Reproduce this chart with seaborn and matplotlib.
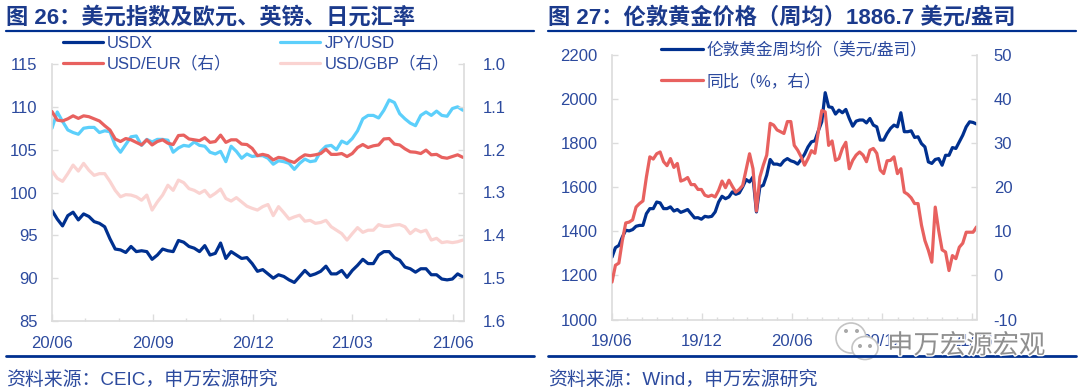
import pandas as pd
import matplotlib
matplotlib.use("Agg")
import matplotlib.pyplot as plt
import matplotlib.dates as mdates
import matplotlib.patheffects as pe
from matplotlib.lines import Line2D
from matplotlib.patches import Ellipse
import seaborn as sns

# chart 26, left scale
usdx = [97.9, 96.9, 96.1, 97.3, 97.7, 96.8, 97.5, 97.2, 96.6, 96.4, 96.0, 94.6, 93.4, 93.3, 93.0, 93.7,
        93.1, 93.2, 93.1, 92.2, 92.7, 93.4, 93.2, 93.1, 94.4, 94.2, 93.7, 93.5, 93.1, 93.8, 92.7, 92.9,
        94.1, 92.3, 93.1, 92.7, 92.3, 92.4, 91.7, 90.8, 91.0, 90.5, 90.0, 90.4, 90.2, 89.8, 89.5, 90.2,
        90.9, 90.3, 90.5, 90.8, 91.4, 90.5, 90.5, 90.9, 90.1, 90.9, 91.5, 92.2, 91.7, 91.7, 92.7, 93.1,
        93.1, 92.4, 92.1, 91.3, 91.1, 90.7, 91.1, 91.1, 90.4, 90.4, 89.9, 89.8, 89.9, 90.5, 90.15]
jpy_usd = [107.5, 109.4, 108.3, 107.3, 107.0, 106.8, 107.5, 107.6, 107.6, 107.0, 107.2, 107.1, 105.5, 104.7,
           105.6, 106.5, 106.6, 105.5, 106.2, 105.9, 106.2, 106.2, 106.1, 104.7, 105.2, 105.5, 105.4, 105.9,
           105.5, 105.4, 104.7, 104.5, 104.8, 103.6, 105.4, 104.8, 104.0, 104.5, 104.2, 104.3, 104.3, 104.0,
           103.3, 103.7, 103.6, 103.4, 102.7, 103.4, 103.9, 103.6, 103.7, 104.8, 105.4, 105.5, 105.0, 106.0,
           105.7, 106.3, 107.2, 108.6, 109.0, 109.0, 108.7, 109.6, 110.8, 110.5, 109.2, 108.6, 108.1, 107.8,
           109.0, 109.4, 109.0, 109.5, 109.0, 108.9, 109.8, 110.0, 109.6]
# chart 26, right scale
usd_eur = [1.111, 1.131, 1.133, 1.128, 1.121, 1.127, 1.121, 1.123, 1.128, 1.133, 1.144, 1.154, 1.175, 1.181,
           1.174, 1.177, 1.183, 1.189, 1.177, 1.189, 1.181, 1.177, 1.185, 1.188, 1.167, 1.166, 1.175, 1.177,
           1.179, 1.172, 1.183, 1.181, 1.166, 1.183, 1.177, 1.177, 1.187, 1.188, 1.197, 1.214, 1.211, 1.214,
           1.224, 1.218, 1.220, 1.226, 1.230, 1.220, 1.212, 1.214, 1.212, 1.209, 1.199, 1.211, 1.211, 1.209,
           1.216, 1.209, 1.195, 1.188, 1.195, 1.191, 1.189, 1.175, 1.174, 1.187, 1.189, 1.198, 1.205, 1.206,
           1.209, 1.201, 1.212, 1.211, 1.218, 1.220, 1.216, 1.212, 1.218]
usd_gbp = [1.250, 1.267, 1.274, 1.256, 1.236, 1.250, 1.232, 1.248, 1.260, 1.256, 1.256, 1.274, 1.295, 1.310,
           1.305, 1.306, 1.310, 1.318, 1.306, 1.341, 1.322, 1.306, 1.283, 1.295, 1.271, 1.277, 1.291, 1.295,
           1.302, 1.295, 1.310, 1.302, 1.292, 1.314, 1.320, 1.312, 1.322, 1.332, 1.337, 1.341, 1.333, 1.328,
           1.354, 1.333, 1.347, 1.362, 1.357, 1.353, 1.367, 1.365, 1.372, 1.370, 1.365, 1.380, 1.388, 1.396,
           1.411, 1.396, 1.382, 1.393, 1.388, 1.388, 1.375, 1.379, 1.379, 1.376, 1.375, 1.380, 1.396, 1.386,
           1.392, 1.388, 1.411, 1.407, 1.417, 1.415, 1.417, 1.415, 1.411]

# chart 27
gold = [1283, 1326, 1336, 1374, 1405, 1402, 1408, 1423, 1427, 1427, 1480, 1503, 1503, 1533, 1529, 1503, 1503,
        1511, 1492, 1499, 1486, 1492, 1499, 1480, 1461, 1462, 1455, 1468, 1465, 1468, 1488, 1533, 1559, 1548,
        1556, 1579, 1568, 1574, 1602, 1635, 1624, 1647, 1488, 1602, 1609, 1655, 1726, 1705, 1705, 1700, 1720,
        1730, 1720, 1715, 1705, 1726, 1750, 1783, 1806, 1811, 1856, 1897, 2029, 1965, 1962, 1932, 1950, 1938,
        1953, 1912, 1877, 1900, 1905, 1905, 1892, 1912, 1882, 1874, 1814, 1814, 1844, 1867, 1882, 1874, 1938,
        1852, 1852, 1856, 1826, 1829, 1798, 1783, 1715, 1708, 1726, 1730, 1700, 1745, 1745, 1780, 1776, 1806,
        1836, 1874, 1897, 1894, 1887]
gold_yoy = [-1.5, 2.3, 2.8, 7.9, 11.9, 12.1, 12.6, 15.5, 16.3, 16.9, 22.3, 26.9, 26.4, 27.6, 28.0, 25.8, 24.9,
            26.5, 24.5, 25.4, 21.4, 21.7, 22.2, 20.6, 20.6, 19.5, 19.5, 18.2, 17.9, 18.2, 17.8, 19.3, 21.4, 19.9,
            21.6, 20.2, 18.9, 19.5, 20.4, 24.0, 27.6, 24.2, 14.6, 22.3, 25.0, 27.3, 34.5, 34.1, 33.0, 32.6, 32.2,
            34.9, 34.9, 29.5, 28.4, 26.9, 25.0, 26.5, 28.3, 27.7, 32.6, 37.4, 37.1, 29.5, 30.5, 26.1, 26.5, 28.8,
            30.2, 24.2, 26.1, 27.3, 28.0, 27.3, 25.8, 28.4, 28.8, 27.7, 23.9, 23.1, 26.0, 26.1, 26.9, 23.1, 24.2,
            18.9, 18.4, 17.6, 16.3, 16.3, 11.4, 7.9, 5.7, 3.0, 15.5, 10.2, 5.8, 5.3, 1.1, 4.5, 3.8, 6.4, 7.3,
            9.8, 9.8, 9.8, 11.0]

left_ticks = [85, 90, 95, 100, 105, 110, 115]
fx_ticks = [1.0, 1.1, 1.2, 1.3, 1.4, 1.5, 1.6]
gold_ticks = [1000, 1200, 1400, 1600, 1800, 2000, 2200]
yoy_ticks = [-10, 0, 10, 20, 30, 40, 50]

dates_fx = pd.date_range("2020-06-01", "2021-06-10", periods=len(usdx))
dates_gold = pd.date_range("2019-06-01", "2021-06-10", periods=len(gold))

NAVY = "#00308f"
SKY = "#5ccffb"
RED = "#e8615f"
PINK = "#fad3d1"
TEXT = "#2c4a9e"
TITLE = "#1b3a8c"
GREY = "#dcdcdc"
W, H = 1080, 392

sns.set_theme(style="white")
plt.rcParams["font.family"] = ["Liberation Sans", "Noto Sans CJK SC"]

fig = plt.figure(figsize=(W / 100, H / 100), dpi=100)


def add_ax(x0, x1, y0, y1):
    return fig.add_axes([x0 / W, 1 - y1 / H, (x1 - x0) / W, (y1 - y0) / H])


def fx(px):
    return px / W


def fy(py):
    return 1 - py / H


def style_pair(ax, ax2, xlim, major_months, lticks, rticks, llim, rlim, lpad, rpad):
    ax.set_xlim(*xlim)
    ax.set_ylim(*llim)
    ax2.set_ylim(*rlim)
    ax.set_yticks(lticks, [str(t) for t in lticks])
    ax2.set_yticks(rticks, [str(t) for t in rticks])
    ax.xaxis.set_major_locator(mdates.MonthLocator(bymonth=major_months))
    ax.xaxis.set_minor_locator(mdates.MonthLocator())
    ax.xaxis.set_major_formatter(mdates.DateFormatter("%y/%m"))
    ax.set_xlabel("")
    ax.set_ylabel("")
    ax2.set_xlabel("")
    ax2.set_ylabel("")
    for a in (ax, ax2):
        a.patch.set_visible(False)
        for s in a.spines.values():
            s.set_visible(False)
            s.set_color(GREY)
            s.set_linewidth(1.2)
    ax.spines["left"].set_visible(True)
    ax.spines["bottom"].set_visible(True)
    ax2.spines["right"].set_visible(True)
    ax.tick_params(axis="x", which="major", direction="in", length=5, width=1, color=GREY,
                   labelsize=12, labelcolor=TEXT, pad=10.5, bottom=True)
    ax.tick_params(axis="x", which="minor", direction="in", length=2.5, width=1, color=GREY, bottom=True)
    ax.tick_params(axis="y", direction="in", length=4, width=1, color=GREY,
                   labelsize=12, labelcolor=TEXT, pad=lpad, left=True)
    ax2.tick_params(axis="y", direction="in", length=4, width=1, color=GREY,
                    labelsize=12, labelcolor=TEXT, pad=rpad, right=True)


# chart 26
ax1 = add_ax(52, 464, 64, 321)
ax1b = ax1.twinx()
sns.lineplot(x=dates_fx, y=usdx, ax=ax1, color=NAVY, linewidth=2.3, label="USDX", legend=False)
sns.lineplot(x=dates_fx, y=jpy_usd, ax=ax1, color=SKY, linewidth=2.3, label="JPY/USD", legend=False)
sns.lineplot(x=dates_fx, y=usd_gbp, ax=ax1b, color=PINK, linewidth=2.3, label="USD/GBP（右）", legend=False)
sns.lineplot(x=dates_fx, y=usd_eur, ax=ax1b, color=RED, linewidth=2.3, label="USD/EUR（右）", legend=False)
style_pair(ax1, ax1b, (pd.Timestamp("2020-06-01"), pd.Timestamp("2021-06-11")), [3, 6, 9, 12],
           left_ticks, fx_ticks, (85, 115), (1.6, 1.0), 10.5, 13.5)

handles1 = [Line2D([], [], color=c, linewidth=2.3) for c in (NAVY, RED, SKY, PINK)]
labels1 = ["USDX", "USD/EUR（右）", "JPY/USD", "USD/GBP（右）"]
fig.legend(handles1, labels1, ncol=2, frameon=False, fontsize=12, labelcolor=TEXT,
           loc="upper left", bbox_to_anchor=(fx(63), fy(36)), borderpad=0, borderaxespad=0,
           handlelength=2.4, handletextpad=0.25, columnspacing=2.9, labelspacing=0.3)

# chart 27
ax2 = add_ax(612, 977, 55, 319.5)
ax2b = ax2.twinx()
sns.lineplot(x=dates_gold, y=gold, ax=ax2, color=NAVY, linewidth=2.3, legend=False)
sns.lineplot(x=dates_gold, y=gold_yoy, ax=ax2b, color=RED, linewidth=2.3, legend=False)
style_pair(ax2, ax2b, (pd.Timestamp("2019-06-01"), pd.Timestamp("2021-06-11")), [6, 12],
           gold_ticks, yoy_ticks, (1000, 2200), (-10, 50), 10.5, 12)

handles2 = [Line2D([], [], color=c, linewidth=2.3) for c in (NAVY, RED)]
fig.legend(handles2, ["伦敦黄金周均价（美元/盎司）", "同比（%，右）"], frameon=False, fontsize=12, labelcolor=TEXT,
           loc="upper left", bbox_to_anchor=(fx(661), fy(42)), borderpad=0, borderaxespad=0,
           handlelength=2.5, handletextpad=0.25, labelspacing=0.92)

# titles, rules, sources
fig.text(fx(6), fy(18), "图 26：美元指数及欧元、英镑、日元汇率", fontsize=16, fontweight="bold",
         color=TITLE, va="center", ha="left")
fig.text(fx(548), fy(18), "图 27：伦敦黄金价格（周均）1886.7 美元/盎司", fontsize=16, fontweight="bold",
         color=TITLE, va="center", ha="left")
fig.text(fx(6), fy(380), "资料来源：CEIC，申万宏源研究", fontsize=13.6, color=TEXT, va="center", ha="left")
fig.text(fx(548), fy(380), "资料来源：Wind，申万宏源研究", fontsize=13.6, color=TEXT, va="center", ha="left")
for x0, x1 in ((6, 534), (548, 1076)):
    fig.add_artist(Line2D([fx(x0), fx(x1)], [fy(30.5), fy(30.5)], color=NAVY, linewidth=1.6))
    fig.add_artist(Line2D([fx(x0), fx(x1)], [fy(356), fy(356)], color=NAVY, linewidth=2))

# watermark
for cx, cy, rx, ry in ((851, 338, 15, 15), (865, 348, 13, 11.5)):
    fig.add_artist(Ellipse((fx(cx), fy(cy)), 2 * rx / W, 2 * ry / H, facecolor="white",
                           edgecolor="#c4c4c4", linewidth=1.2, transform=fig.transFigure))
for cx, cy in ((846, 331), (857, 331), (860, 346), (870, 346)):
    fig.add_artist(Ellipse((fx(cx), fy(cy)), 4 / W, 4 / H, facecolor="#a8a8a8", edgecolor="none",
                           transform=fig.transFigure))
fig.text(fx(887), fy(346), "申万宏源宏观", fontsize=19, color="#8f8f8f", va="center", ha="left",
         path_effects=[pe.withStroke(linewidth=2, foreground="white")])

fig.savefig("out.png", dpi=100)
